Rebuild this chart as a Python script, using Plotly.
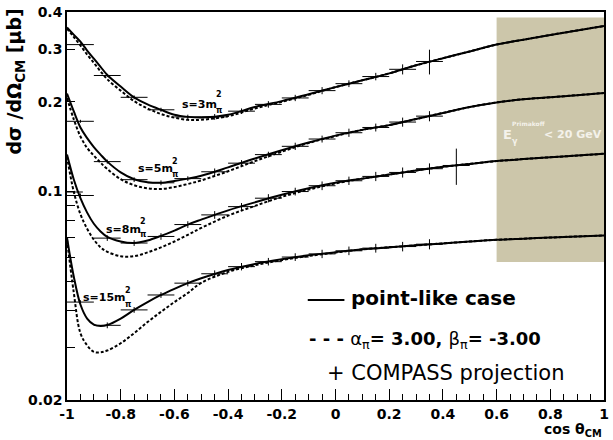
import plotly.graph_objects as go

# ---------------- data ----------------
cos_grid = [-1, -0.975, -0.95, -0.925, -0.9, -0.875, -0.85, -0.8, -0.75, -0.7, -0.65, -0.6,
            -0.55, -0.5, -0.4, -0.3, -0.2, -0.1, 0, 0.1, 0.2, 0.3, 0.4, 0.5, 0.6, 0.7, 0.8, 0.9, 1.0]

s3_point = [0.355, 0.336, 0.318, 0.297, 0.279, 0.262, 0.246, 0.225, 0.207, 0.196, 0.188, 0.181,
            0.178, 0.177, 0.181, 0.192, 0.201, 0.212, 0.224, 0.236, 0.249, 0.265, 0.280, 0.295,
            0.311, 0.323, 0.335, 0.347, 0.359]
s3_pol = [0.352, 0.330, 0.309, 0.288, 0.270, 0.253, 0.238, 0.218, 0.201, 0.190, 0.182, 0.177,
          0.174, 0.174, 0.179, 0.190, 0.200, 0.211, 0.224, 0.236, 0.249, 0.265, 0.280, 0.295,
          0.311, 0.323, 0.335, 0.347, 0.359]

s5_point = [0.213, 0.186, 0.164, 0.151, 0.141, 0.133, 0.126, 0.116, 0.110, 0.1075, 0.107, 0.1085,
            0.1105, 0.113, 0.1205, 0.129, 0.1375, 0.146, 0.154, 0.161, 0.167, 0.175, 0.1835, 0.192,
            0.199, 0.204, 0.207, 0.2105, 0.214]
s5_pol = [0.206, 0.175, 0.153, 0.140, 0.132, 0.125, 0.119, 0.110, 0.105, 0.1025, 0.102, 0.1035,
          0.106, 0.109, 0.117, 0.1265, 0.136, 0.1455, 0.1535, 0.161, 0.167, 0.175, 0.1835, 0.192,
          0.199, 0.204, 0.207, 0.2105, 0.214]

s8_point = [0.133, 0.110, 0.095, 0.085, 0.078, 0.0735, 0.0705, 0.068, 0.0672, 0.0685, 0.0710, 0.074,
            0.0775, 0.0805, 0.0865, 0.092, 0.0975, 0.1025, 0.107, 0.1105, 0.114, 0.1177, 0.121,
            0.1238, 0.1265, 0.1285, 0.1303, 0.132, 0.1339]
s8_pol = [0.131, 0.100, 0.084, 0.075, 0.069, 0.065, 0.0628, 0.0607, 0.0607, 0.0625, 0.065, 0.068,
          0.0716, 0.0755, 0.083, 0.0895, 0.096, 0.1015, 0.1065, 0.1105, 0.114, 0.1177, 0.121,
          0.1238, 0.1265, 0.1285, 0.1303, 0.132, 0.1339]

s15_point = [0.070, 0.052, 0.0418, 0.0375, 0.0358, 0.0354, 0.0357, 0.0375, 0.0401, 0.0426, 0.0450,
             0.0472, 0.0493, 0.0512, 0.0546, 0.0572, 0.0593, 0.0611, 0.0626, 0.064, 0.065, 0.066,
             0.067, 0.068, 0.0689, 0.0695, 0.0701, 0.0707, 0.0712]
s15_pol = [0.069, 0.046, 0.0335, 0.0305, 0.0290, 0.0289, 0.0293, 0.0310, 0.0335, 0.0365, 0.0395,
           0.0426, 0.0457, 0.0494, 0.0538, 0.0566, 0.0589, 0.0608, 0.0624, 0.064, 0.065, 0.066,
           0.067, 0.068, 0.0689, 0.0695, 0.0701, 0.0707, 0.0712]

# COMPASS projection (bin centres, half bin width 0.05)
bins = [-0.95, -0.85, -0.75, -0.65, -0.55, -0.45, -0.35, -0.25, -0.15, -0.05, 0.05, 0.15, 0.25, 0.35]
bins8 = bins + [0.45]
bin_half = 0.05

proj3 = [0.311, 0.245, 0.207, 0.188, 0.178, 0.178, 0.186, 0.196, 0.206, 0.218, 0.230, 0.243, 0.257, 0.273]
err3 = [0.003, 0.003, 0.003, 0.003, 0.003, 0.004, 0.004, 0.005, 0.005, 0.006, 0.006, 0.007, 0.010, 0.026]
proj5 = [0.172, 0.126, 0.1096, 0.107, 0.1105, 0.1165, 0.1245, 0.133, 0.1418, 0.150, 0.1575, 0.164, 0.171, 0.179]
err5 = [0.002, 0.002, 0.002, 0.002, 0.002, 0.003, 0.003, 0.003, 0.004, 0.004, 0.005, 0.005, 0.006, 0.007]
proj8 = [0.097, 0.0698, 0.0672, 0.0707, 0.0775, 0.0835, 0.089, 0.095, 0.100, 0.1046, 0.1087, 0.1124,
         0.1159, 0.1193, 0.1223]
err8 = [0.0015, 0.0015, 0.0015, 0.0018, 0.002, 0.0025, 0.0025, 0.003, 0.003, 0.0035, 0.0035, 0.004,
        0.0045, 0.005, 0.017]
proj15 = [0.0426, 0.0356, 0.0401, 0.045, 0.0493, 0.053, 0.056, 0.0582, 0.0603, 0.0618, 0.0633, 0.0646,
          0.0654, 0.0666]
err15 = [0.0006, 0.0008, 0.0009, 0.001, 0.0012, 0.0014, 0.0016, 0.0017, 0.0018, 0.002, 0.0021, 0.0022,
         0.0024, 0.0026]

# excluded region (E_gamma^Primakoff < 20 GeV)
box_x = [0.6, 1.0]
box_y = [0.058, 0.383]

xticks = [-1, -0.8, -0.6, -0.4, -0.2, 0, 0.2, 0.4, 0.6, 0.8, 1]
xticklabels = ["-1", "-0.8", "-0.6", "-0.4", "-0.2", "0", "0.2", "0.4", "0.6", "0.8", "1"]
yticks = [0.02, 0.1, 0.2, 0.3, 0.4]
yticklabels = ["0.02", "0.1", "0.2", "0.3", "0.4"]
yminor = [0.03, 0.04, 0.05, 0.06, 0.07, 0.08, 0.09]

# ---------------- figure ----------------
W, H = 613, 440
L, R, T, B = 67, 4, 12, 40
PW, PH = W - L - R, H - T - B


def px(x):
    return (x - L) / PW


def py(y):
    return (H - B - y) / PH


FONT = "DejaVu Sans"
fig = go.Figure()

# shaded region
fig.add_trace(go.Scatter(
    x=[box_x[0], box_x[1], box_x[1], box_x[0], box_x[0]],
    y=[box_y[0], box_y[0], box_y[1], box_y[1], box_y[0]],
    mode="lines", fill="toself", fillcolor="#CCC6AA", line=dict(width=0),
    hoverinfo="skip", showlegend=False))

for pol in [s3_pol, s5_pol, s8_pol, s15_pol]:
    fig.add_trace(go.Scatter(x=cos_grid, y=pol, mode="lines", line_shape="spline",
                             line=dict(color="black", width=2, dash="3px,2px"),
                             showlegend=False))
for pt in [s3_point, s5_point, s8_point, s15_point]:
    fig.add_trace(go.Scatter(x=cos_grid, y=pt, mode="lines", line_shape="spline",
                             line=dict(color="black", width=2), showlegend=False))

for xs, ys, es in [(bins, proj3, err3), (bins, proj5, err5), (bins8, proj8, err8), (bins, proj15, err15)]:
    fig.add_trace(go.Scatter(
        x=xs, y=ys, mode="markers", marker=dict(size=1, color="black"),
        error_x=dict(type="constant", value=bin_half, color="black", thickness=1, width=0),
        error_y=dict(type="data", array=es, color="black", thickness=1, width=0),
        showlegend=False))

fig.update_layout(
    width=W, height=H, margin=dict(l=L, r=R, t=T, b=B),
    paper_bgcolor="white", plot_bgcolor="white",
    font=dict(family=FONT, color="black"),
    xaxis=dict(range=[-1, 1], tickvals=xticks, ticktext=xticklabels, ticks="inside", ticklen=11,
               tickwidth=1, tickcolor="black", showgrid=False, zeroline=False,
               showline=True, linecolor="black", linewidth=1.5, mirror=True,
               tickfont=dict(family=FONT, size=14, weight="bold"),
               minor=dict(dtick=0.05, tick0=-1, ticks="inside", ticklen=6, tickcolor="black", showgrid=False)),
    yaxis=dict(type="log", range=[-1.69897, -0.39794], tickvals=yticks, ticktext=yticklabels,
               ticks="inside", ticklen=8, tickwidth=1, tickcolor="black", showgrid=False, zeroline=False,
               showline=True, linecolor="black", linewidth=1.5, mirror=True,
               tickfont=dict(family=FONT, size=14, weight="bold"),
               minor=dict(tickvals=yminor, ticks="inside", ticklen=8, tickcolor="black", showgrid=False)),
)

# long major tick at 0.1
fig.add_shape(type="line", xref="paper", yref="paper", x0=0, x1=16 / PW, y0=py(192), y1=py(192),
              line=dict(color="black", width=1))

ann = []


def text(x, y, s, size, xanchor="left", bold=True, color="black", angle=0, yanchor="middle"):
    ann.append(dict(x=px(x), y=py(y), xref="paper", yref="paper", text=s, showarrow=False,
                    xanchor=xanchor, yanchor=yanchor, textangle=angle, borderpad=0,
                    font=dict(family=FONT, size=size, color=color, weight="bold" if bold else "normal")))


# axis titles
text(15, 7, "dσ /dΩ<sub>CM</sub> [μb]", 19, xanchor="center", angle=-90, yanchor="top")
text(608, 430, "cos θ<sub>CM</sub>", 14, xanchor="right")

# curve labels
for (xr, yc, ys2, ysp, lab) in [(219, 104, 94, 110, "s=3m"), (175, 168, 161, 175, "s=5m"),
                                (143, 229, 221, 235, "s=8m"), (128, 297, 290, 304, "s=15m")]:
    text(xr, yc, lab, 11, xanchor="right")
    text(xr - 3, ys2, "2", 8, xanchor="left")
    text(xr - 3, ysp, "π", 8, xanchor="left")

# legend
fig.add_shape(type="line", xref="paper", yref="paper", x0=px(310), x1=px(347), y0=py(300), y1=py(300),
              line=dict(color="black", width=2))
text(353, 298, "point-like case", 20)
ann.append(dict(x=px(310), y=py(340), xref="paper", yref="paper", showarrow=False, xanchor="left",
                yanchor="middle", borderpad=0,
                text="<b>- - - </b>α<sub>π</sub><b>= 3.00, </b>β<sub>π</sub><b>= -3.00</b>",
                font=dict(family=FONT, size=18, color="black")))
text(328, 373, "+ COMPASS projection", 21, bold=False)

# shaded region label
text(506, 134, "E", 13, color="#F4F2EA")
text(515, 141, "γ", 8, color="#F4F2EA")
text(515, 124, "Primakoff", 6, color="#F4F2EA")
text(547, 134, "< 20 GeV", 11, color="#F4F2EA")

fig.update_layout(annotations=ann)
fig.write_html("out.html")
